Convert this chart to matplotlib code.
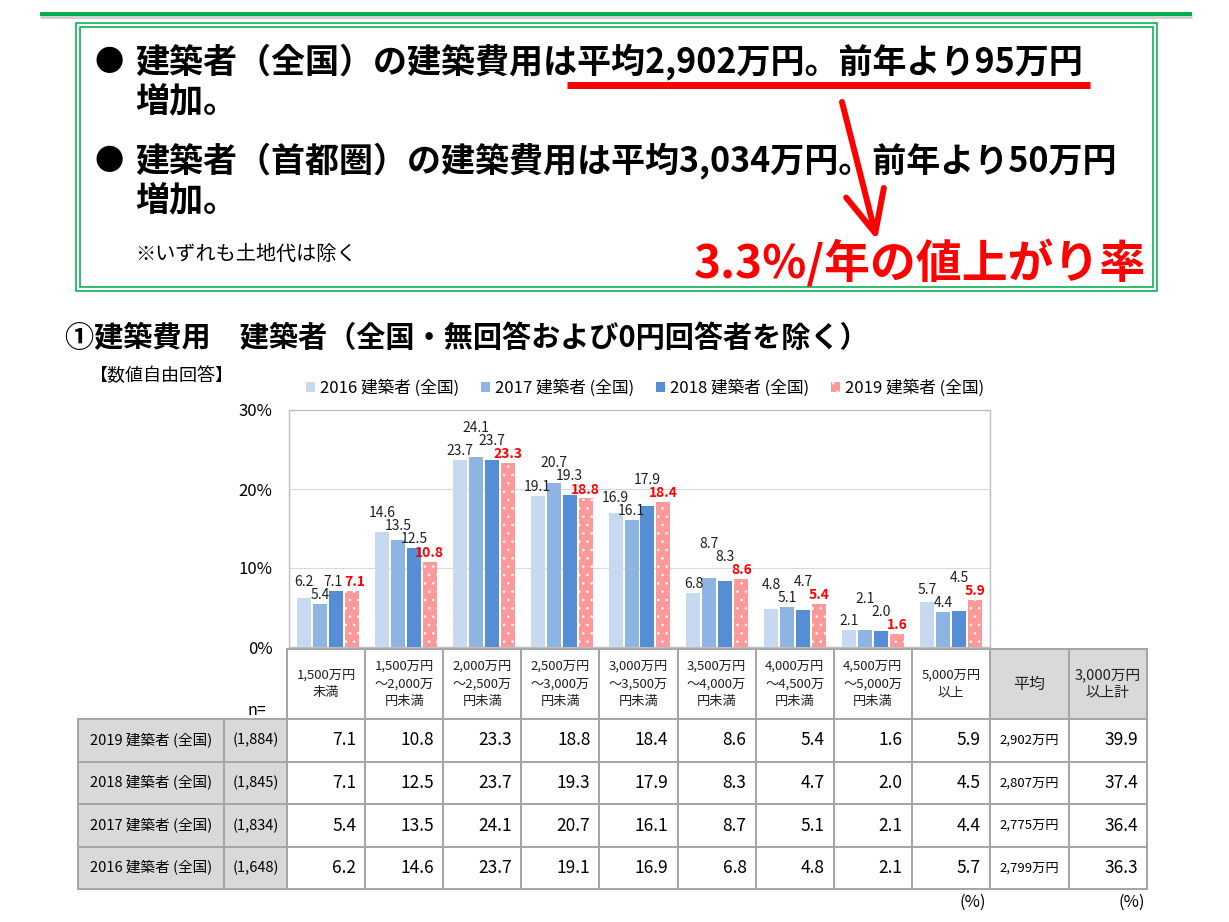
import matplotlib
matplotlib.use("Agg")
import matplotlib.pyplot as plt
from matplotlib.patches import Rectangle, Patch

plt.rcParams["font.family"] = ["Noto Sans CJK JP", "DejaVu Sans"]
plt.rcParams["hatch.linewidth"] = 0.6

# ---- data ----
categories = [
    "1,500万円\n未満",
    "1,500万円\n～2,000万\n円未満",
    "2,000万円\n～2,500万\n円未満",
    "2,500万円\n～3,000万\n円未満",
    "3,000万円\n～3,500万\n円未満",
    "3,500万円\n～4,000万\n円未満",
    "4,000万円\n～4,500万\n円未満",
    "4,500万円\n～5,000万\n円未満",
    "5,000万円\n以上",
]
years = ["2016 建築者 (全国)", "2017 建築者 (全国)", "2018 建築者 (全国)", "2019 建築者 (全国)"]
v2016 = [6.2, 14.6, 23.7, 19.1, 16.9, 6.8, 4.8, 2.1, 5.7]
v2017 = [5.4, 13.5, 24.1, 20.7, 16.1, 8.7, 5.1, 2.1, 4.4]
v2018 = [7.1, 12.5, 23.7, 19.3, 17.9, 8.3, 4.7, 2.0, 4.5]
v2019 = [7.1, 10.8, 23.3, 18.8, 18.4, 8.6, 5.4, 1.6, 5.9]
n_counts = ["(1,648)", "(1,834)", "(1,845)", "(1,884)"]
averages = ["2,799万円", "2,775万円", "2,807万円", "2,902万円"]
over_3000 = [36.3, 36.4, 37.4, 39.9]
yticks = [0, 10, 20, 30]

series = [v2016, v2017, v2018, v2019]
colors = ["#C6D9F1", "#8EB4E3", "#558ED5", "#FF9999"]

W, H = 1229, 922
fig = plt.figure(figsize=(W / 100, H / 100), dpi=100)

# canvas in pixel coordinates for the page decoration and the table
cv = fig.add_axes([0, 0, 1, 1])
cv.set_xlim(0, W)
cv.set_ylim(H, 0)
cv.axis("off")

GREEN = "#00B050"
RED = "#FF0000"
PX = 0.72  # points per pixel

# top green rule
cv.plot([40, 1192], [17, 17], color="#D0D0D0", lw=3 * PX, solid_capstyle="butt")
cv.plot([40, 1192], [14, 14], color=GREEN, lw=4 * PX, solid_capstyle="butt")

# double-bordered box
cv.add_patch(Rectangle((76, 23), 1081, 268, fill=False, ec=GREEN, lw=1.6 * PX))
cv.add_patch(Rectangle((80, 27), 1073, 260, fill=False, ec=GREEN, lw=1.6 * PX))

head_kw = dict(fontsize=24.5, fontweight="bold", color="#000000", va="center")
cv.text(95, 62, "●", fontsize=21, fontweight="bold", va="center")
cv.text(135, 62, "建築者（全国）の建築費用は平均2,902万円。前年より95万円", **head_kw)
cv.text(135, 101, "増加。", **head_kw)
cv.text(95, 161, "●", fontsize=21, fontweight="bold", va="center")
cv.text(135, 161, "建築者（首都圏）の建築費用は平均3,034万円。前年より50万円", **head_kw)
cv.text(135, 200, "増加。", **head_kw)
cv.text(135, 254, "※いずれも土地代は除く", fontsize=14.5, va="center")

cv.plot([567, 1090], [85, 85], color=RED, lw=7 * PX, solid_capstyle="butt")
cv.annotate("", xy=(877, 240), xytext=(842, 102),
            arrowprops=dict(arrowstyle="->,head_length=1.5,head_width=0.7",
                            color=RED, lw=6 * PX, shrinkA=0, shrinkB=0,
                            mutation_scale=20))
cv.text(1146, 264, "3.3%/年の値上がり率", fontsize=33, fontweight="bold",
        color=RED, ha="right", va="center")

cv.text(65, 338, "①建築費用　建築者（全国・無回答および0円回答者を除く）",
        fontsize=21, fontweight="bold", va="center")
cv.text(90, 376, "【数値自由回答】", fontsize=13, va="center")

# ---- bar chart ----
ax_left, ax_top, ax_right, ax_bottom = 289, 410, 990, 647
ax = fig.add_axes([ax_left / W, 1 - ax_bottom / H,
                   (ax_right - ax_left) / W, (ax_bottom - ax_top) / H])
ax.set_facecolor("none")
pitch = 0.205
bw = 0.18
x = list(range(len(categories)))
offsets = [(-1.5 + k) * pitch for k in range(4)]

for k, (vals, col) in enumerate(zip(series, colors)):
    xs = [i + offsets[k] for i in x]
    if k == 3:
        ax.bar(xs, vals, width=bw, color=col, edgecolor="white", lw=0,
               hatch="..", zorder=3)
    else:
        ax.bar(xs, vals, width=bw, color=col, lw=0, zorder=3)

# data labels: place above bar, lift when clashing with right neighbour;
# equal neighbours stay level and are nudged apart sideways
lab_h = 1.65
pad = 0.25
nudge = 0.035
for i in x:
    ys = [None] * 4
    dx = [0.0] * 4
    for k in range(3, -1, -1):
        y = series[k][i] + pad
        if k < 3 and abs(y - ys[k + 1]) < lab_h:
            if series[k][i] == series[k + 1][i]:
                y = ys[k + 1]
                dx[k] -= nudge
                dx[k + 1] += nudge
            else:
                y = ys[k + 1] + lab_h
        ys[k] = y
    for k in range(4):
        if k == 3:
            ax.text(i + offsets[k] + dx[k], ys[k], f"{series[k][i]:.1f}", ha="center",
                    va="bottom", fontsize=10, color=RED, fontweight="bold", zorder=4)
        else:
            ax.text(i + offsets[k] + dx[k], ys[k], f"{series[k][i]:.1f}", ha="center",
                    va="bottom", fontsize=10, color="#202020", zorder=4)

ax.set_xlim(-0.5, len(categories) - 0.5)
ax.set_ylim(0, 30)
ax.set_yticks(yticks)
ax.set_yticklabels([f"{t}%" for t in yticks])
ax.set_xticks([])
ax.tick_params(axis="y", length=0, labelsize=12, pad=12)
ax.grid(axis="y", color="#D9D9D9", lw=0.8, zorder=0)
for sp in ax.spines.values():
    sp.set_color("#BFBFBF")
    sp.set_linewidth(1.0)

handles = [Patch(facecolor=c, edgecolor="white" if k == 3 else c, lw=0,
                 hatch=".." if k == 3 else None) for k, c in enumerate(colors)]
fig.legend(handles, years, loc="center", bbox_to_anchor=(645 / W, 1 - 388 / H),
           ncol=4, frameon=False, fontsize=12, handlelength=0.55,
           handleheight=0.55, handletextpad=0.3, columnspacing=1.3)

# ---- table ----
BORDER = "#A6A6A6"
GRAY = "#D9D9D9"
col_w = 78.1
cx0 = 287
cat_edges = [cx0 + col_w * j for j in range(len(categories) + 1)]
sum_edges = [cat_edges[-1], cat_edges[-1] + 79, cat_edges[-1] + 157]
row_lab = (78, 224)
n_col = (224, 287)
hdr_top, hdr_bot = 649, 719
row_h = 42.6

for j, lab in enumerate(categories):
    cv.add_patch(Rectangle((cat_edges[j], hdr_top), col_w, hdr_bot - hdr_top,
                           fc="white", ec=BORDER, lw=2 * PX))
    cv.text((cat_edges[j] + cat_edges[j + 1]) / 2, (hdr_top + hdr_bot) / 2, lab,
            ha="center", va="center", fontsize=9.5, linespacing=1.45, color="#202020")
for j, lab in enumerate(["平均", "3,000万円\n以上計"]):
    cv.add_patch(Rectangle((sum_edges[j], hdr_top), sum_edges[j + 1] - sum_edges[j],
                           hdr_bot - hdr_top, fc=GRAY, ec=BORDER, lw=2 * PX))
    cv.text((sum_edges[j] + sum_edges[j + 1]) / 2, (hdr_top + hdr_bot) / 2, lab,
            ha="center", va="center", fontsize=11.5 if j == 0 else 10.5,
            linespacing=1.4, color="#202020")
cv.text(257, 710, "n=", fontsize=11.5, ha="center", va="center")

for r, k in enumerate([3, 2, 1, 0]):
    top = hdr_bot + r * row_h
    mid = top + row_h / 2
    cv.add_patch(Rectangle((row_lab[0], top), row_lab[1] - row_lab[0], row_h,
                           fc=GRAY, ec=BORDER, lw=2 * PX))
    cv.text(sum(row_lab) / 2, mid, years[k], ha="center", va="center", fontsize=10.5)
    cv.add_patch(Rectangle((n_col[0], top), n_col[1] - n_col[0], row_h,
                           fc=GRAY, ec=BORDER, lw=2 * PX))
    cv.text(sum(n_col) / 2, mid, n_counts[k], ha="center", va="center", fontsize=10.5)
    for j in range(len(categories)):
        cv.add_patch(Rectangle((cat_edges[j], top), col_w, row_h,
                               fc="white", ec=BORDER, lw=2 * PX))
        cv.text(cat_edges[j + 1] - 9, mid, f"{series[k][j]:.1f}", ha="right",
                va="center", fontsize=12.5)
    cv.add_patch(Rectangle((sum_edges[0], top), sum_edges[1] - sum_edges[0], row_h,
                           fc="white", ec=BORDER, lw=2 * PX))
    cv.text((sum_edges[0] + sum_edges[1]) / 2, mid, averages[k], ha="center",
            va="center", fontsize=9.5)
    cv.add_patch(Rectangle((sum_edges[1], top), sum_edges[2] - sum_edges[1], row_h,
                           fc="white", ec=BORDER, lw=2 * PX))
    cv.text(sum_edges[2] - 9, mid, f"{over_3000[k]:.1f}", ha="right",
            va="center", fontsize=12.5)

tab_bot = hdr_bot + 4 * row_h
cv.text(cat_edges[-1] - 4, tab_bot + 13, "(%)", ha="right", va="center", fontsize=12)
cv.text(sum_edges[-1] - 2, tab_bot + 13, "(%)", ha="right", va="center", fontsize=12)

fig.savefig("out.png", dpi=100)
